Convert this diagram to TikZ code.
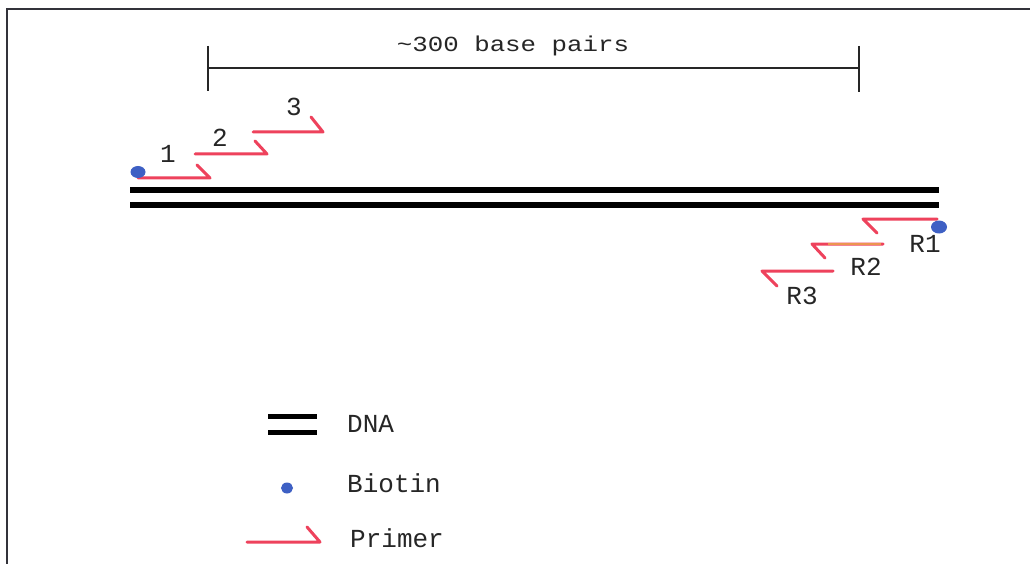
\documentclass[tikz,border=0pt]{standalone}
\usepackage{fontspec}
\setmonofont{Liberation Mono}
\definecolor{primerred}{RGB}{238,66,92}
\definecolor{primerorange}{RGB}{236,150,80}
\definecolor{biotinblue}{RGB}{62,96,196}
\definecolor{framegray}{RGB}{50,50,58}
\begin{document}
\begin{tikzpicture}[x=1pt,y=-1pt,
  primer/.style={draw=primerred, line width=3pt, line cap=round, line join=round},
  dnastrand/.style={draw=black, line width=5.5pt},
  biotin/.style={fill=biotinblue, draw=none},
  lbl/.style={font=\ttfamily\fontsize{26}{30}\selectfont, inner sep=0pt, anchor=base, text=black!85},
  legendlbl/.style={lbl, anchor=base west},
  scalebar/.style={draw=black!85, line width=1.6pt},
  scaletick/.style={draw=black!85, line width=2.2pt}]
  \useasboundingbox (0,0) rectangle (1030,564);
  \fill[white] (0,0) rectangle (1030,564);

  % panel frame (top and left edges)
  \draw[framegray, line width=2pt] (7,564) -- (7,9) -- (1030,9);

  % length bar over the amplified region
  \coordinate (barL) at (208,68);
  \coordinate (barR) at (859,68);
  \draw[scalebar] (barL) -- (barR);
  \draw[scaletick] (208,46) -- (208,91);
  \draw[scaletick] (859,46) -- (859,92);
  \node[lbl] (barlabel) at (513,52) {\scalebox{1.2}[1]{\fontsize{21.5}{24}\selectfont \textasciitilde 300 base pairs}};

  % double-stranded DNA
  \draw[dnastrand] (130,190) -- (939,190);
  \draw[dnastrand] (130,205) -- (939,205);

  % forward primers
  \draw[primer] (138,178) -- (210,178) -- (197,165);
  \draw[primer] (195,154) -- (267,154) -- (255,141);
  \draw[primer] (253,132) -- (323,132) -- (311,117);
  \fill[biotin] (138,172) ellipse [x radius=7.5pt, y radius=6pt];
  \node[lbl] (f1) at (168,163) {1};
  \node[lbl] (f2) at (220,147) {2};
  \node[lbl] (f3) at (294,116) {3};

  % reverse primers
  \draw[primer] (937,219) -- (863,219) -- (877,233);
  \draw[primer] (883,244) -- (812,244) -- (825,258);
  \draw[primerorange, line width=1.3pt] (828,244) -- (881,244);
  \draw[primer] (833,271) -- (762,271) -- (777,286);
  \fill[biotin] (939,227) ellipse [x radius=8pt, y radius=6.5pt];
  \node[lbl] (r1) at (925,252) {R1};
  \node[lbl] (r2) at (866,275) {R2};
  \node[lbl] (r3) at (802,304) {R3};

  % legend
  \draw[black, line width=5pt] (268,416.5) -- (317,416.5);
  \draw[black, line width=5pt] (268,432) -- (317,432);
  \node[legendlbl] (ldna) at (347,432) {DNA};
  \fill[biotin] (287,488) ellipse [x radius=6pt, y radius=5.5pt];
  \node[legendlbl] (lbiotin) at (347,492) {Biotin};
  \draw[primer] (247,542) -- (320,542) -- (307,527);
  \node[legendlbl] (lprimer) at (350,547) {Primer};
\end{tikzpicture}
\end{document}
